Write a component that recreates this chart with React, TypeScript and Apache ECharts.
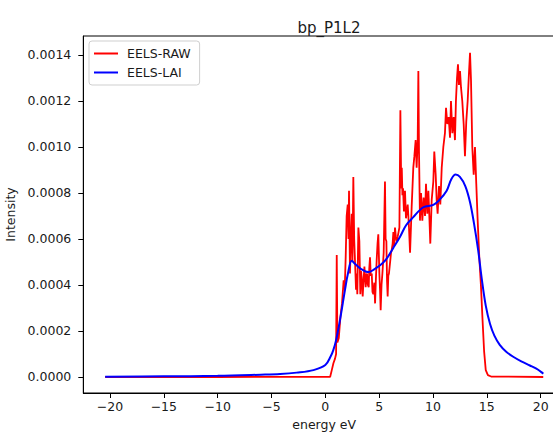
import React, { useEffect, useRef } from "react";
import * as echarts from "echarts";

// EELS-RAW spectrum: energy (eV) and intensity
const rawEnergy = [
  -20.45, -10, 0.45, 0.6, 0.75, 0.9, 1.0, 1.06, 1.12, 1.25, 1.4, 1.55, 1.7, 1.8, 1.89, 1.98,
  2.08, 2.15, 2.2, 2.29, 2.37, 2.45, 2.52, 2.6, 2.68, 2.76, 2.85, 2.92, 2.97, 3.07, 3.16,
  3.25, 3.32, 3.38, 3.47, 3.55, 3.63, 3.75, 3.82, 3.87, 3.95, 4.03, 4.08, 4.15, 4.22, 4.31,
  4.38, 4.46, 4.55, 4.62, 4.7, 4.77, 4.85, 4.92, 5.02, 5.08, 5.14, 5.22, 5.3, 5.42, 5.54,
  5.6, 5.67, 5.73, 5.79, 5.85, 5.91, 6.04, 6.1, 6.16, 6.25, 6.32, 6.4, 6.47, 6.55, 6.63,
  6.72, 6.8, 6.88, 6.97, 7.05, 7.1, 7.16, 7.22, 7.3, 7.35, 7.4, 7.49, 7.57, 7.65, 7.77,
  7.87, 8.02, 8.17, 8.27, 8.39, 8.48, 8.58, 8.64, 8.7, 8.79, 8.89, 9.01, 9.13, 9.26, 9.35,
  9.47, 9.57, 9.66, 9.75, 9.88, 10.03, 10.12, 10.25, 10.34, 10.43, 10.56, 10.68, 10.81,
  10.96, 11.11, 11.21, 11.33, 11.46, 11.58, 11.67, 11.8, 11.92, 12.04, 12.13, 12.23, 12.32,
  12.41, 12.51, 12.6, 12.72, 12.85, 12.97, 13.09, 13.22, 13.34, 13.44, 13.53, 13.65, 13.78,
  13.9, 14.02, 14.15, 14.3, 14.45, 14.6, 14.75, 14.9, 15.1, 15.4, 20.24,
];
const rawIntensity = [
  0, 0, 0.000001, 0.00003, 0.00006, 0.00008, 0.0001, 0.00053, 0.00015, 0.00017, 0.00026,
  0.00032, 0.00042, 0.00038, 0.00052, 0.0007, 0.00075, 0.0006, 0.00081, 0.00045, 0.0006,
  0.00071, 0.0005, 0.00087, 0.0006, 0.0005, 0.00038, 0.00045, 0.00036, 0.00065, 0.00059,
  0.00036, 0.00046, 0.00043, 0.00035, 0.00042, 0.00048, 0.00039, 0.00044, 0.00045, 0.0004,
  0.00039, 0.00047, 0.00052, 0.00044, 0.00045, 0.00037, 0.00036, 0.00041, 0.00032, 0.00043,
  0.00051, 0.00058, 0.00062, 0.00045, 0.00038, 0.00029, 0.0004, 0.00045, 0.00054, 0.00085,
  0.0006, 0.00059, 0.00042, 0.00035, 0.00044, 0.00045, 0.00051, 0.00054, 0.00055, 0.00058,
  0.00063, 0.00057, 0.00065, 0.00061, 0.00059, 0.00061, 0.00063, 0.00065, 0.00116, 0.00082,
  0.00091, 0.00079, 0.00082, 0.00072, 0.00077, 0.00081, 0.00069, 0.00072, 0.00075, 0.00065,
  0.00054, 0.00074, 0.00091, 0.00096, 0.00103, 0.00091, 0.00103, 0.00133, 0.00098, 0.00068,
  0.0008, 0.00068, 0.00078, 0.0007, 0.00084, 0.00071, 0.00081, 0.0007, 0.00058, 0.00077,
  0.00085, 0.00098, 0.00088, 0.00077, 0.00071, 0.00083, 0.00075, 0.00091, 0.001, 0.00106,
  0.00117, 0.0011, 0.00113, 0.00104, 0.0012, 0.00106, 0.00113, 0.00103, 0.0012, 0.0013,
  0.00136, 0.00127, 0.00133, 0.00126, 0.0012, 0.0011, 0.00096, 0.00111, 0.0012, 0.00132,
  0.00141, 0.00129, 0.001, 0.00088, 0.001, 0.00084, 0.00068, 0.00052, 0.0004, 0.00025,
  0.00011, 0.00003, 0.000008, 0.000002, 0,
];

// EELS-LAI smoothed spectrum
const laiEnergy = [
  -20.45, -15, -10, -6, -4.2, -2.66, -1.1, 0, 0.5, 0.74, 1.0, 1.37, 1.83, 2.1, 2.45, 2.8,
  3.3, 4.0, 4.6, 5.2, 5.7, 6.3, 6.94, 7.5, 8.17, 9.1, 10.03, 10.6, 11.27, 11.7, 12.1, 12.5,
  13.0, 13.44, 13.8, 14.2, 14.52, 14.9, 15.3, 15.7, 16.2, 16.8, 17.45, 18.2, 19.0, 19.6,
  20.1, 20.24,
];
const laiIntensity = [
  0.000001, 0.000003, 0.000005, 0.00001, 0.000013, 0.000019, 0.00003, 0.000052, 0.00009,
  0.000117, 0.00016, 0.00025, 0.00038, 0.00045, 0.000505, 0.00049, 0.00047, 0.000456,
  0.00047, 0.00049, 0.000515, 0.00056, 0.00061, 0.00066, 0.000695, 0.000738, 0.000748,
  0.00077, 0.00081, 0.00086, 0.00088, 0.00087, 0.00083, 0.00076, 0.00067, 0.00055, 0.00043,
  0.00031, 0.00023, 0.00018, 0.00014, 0.00011, 0.000088, 0.000068, 0.00005, 0.000036,
  0.00002, 0.000014,
];

const xTicks = [-20, -15, -10, -5, 0, 5, 10, 15, 20];
const yTicks = [0, 0.0002, 0.0004, 0.0006, 0.0008, 0.001, 0.0012, 0.0014];

const FONT = "DejaVu Sans";
const TEXT = "#1a1a1a";

export default function App() {
  const ref = useRef<HTMLDivElement>(null);

  useEffect(() => {
    document.body.style.margin = "0";
    const chart = echarts.init(ref.current!, null, { renderer: "svg" });
    const zip = (xs: number[], ys: number[]) => xs.map((x, i) => [x, ys[i]]);
    chart.setOption({
      animation: false,
      backgroundColor: "#ffffff",
      textStyle: { fontFamily: FONT },
      title: {
        text: "bp_P1L2",
        left: 324,
        top: 15,
        textAlign: "center",
        textStyle: { fontFamily: FONT, fontSize: 15, fontWeight: "normal", color: TEXT },
      },
      legend: {
        left: 89,
        top: 41,
        orient: "vertical",
        icon: "rect",
        itemWidth: 24,
        itemHeight: 2,
        itemGap: 6,
        padding: [6, 9, 6, 5],
        borderColor: "#cfcfcf",
        borderWidth: 1,
        borderRadius: 3,
        backgroundColor: "rgba(255,255,255,0.8)",
        textStyle: { fontFamily: FONT, fontSize: 12.5, color: TEXT, padding: [0, 0, 0, 4] },
        data: ["EELS-RAW", "EELS-LAI"],
      },
      grid: {
        left: 83.3,
        right: 34.9,
        top: 36,
        bottom: 39,
        outerBoundsMode: "none",
        show: true,
        borderColor: "#000",
        borderWidth: 1,
      },
      xAxis: {
        type: "value",
        min: -22.48,
        max: 22.27,
        name: "energy eV",
        nameLocation: "middle",
        nameGap: 24,
        nameTextStyle: { fontFamily: FONT, fontSize: 12.5, color: TEXT },
        axisLine: { show: true, onZero: false, lineStyle: { color: "#000", width: 1 } },
        axisTick: { show: true, length: 5, customValues: xTicks, lineStyle: { color: "#000" } },
        axisLabel: {
          customValues: xTicks,
          margin: 7,
          fontFamily: FONT,
          fontSize: 12.5,
          color: TEXT,
          formatter: (v: number) => (v < 0 ? "\u2212" + Math.abs(v) : String(v)),
        },
        splitLine: { show: false },
      },
      yAxis: {
        type: "value",
        min: -0.0000696,
        max: 0.0014826,
        name: "Intensity",
        nameLocation: "middle",
        nameGap: 63,
        nameTextStyle: { fontFamily: FONT, fontSize: 12.5, color: TEXT },
        axisLine: { show: true, onZero: false, lineStyle: { color: "#000", width: 1 } },
        axisTick: { show: true, length: 5, customValues: yTicks, lineStyle: { color: "#000" } },
        axisLabel: {
          customValues: yTicks,
          margin: 12,
          fontFamily: FONT,
          fontSize: 12.5,
          color: TEXT,
          formatter: (v: number) => v.toFixed(4),
        },
        splitLine: { show: false },
      },
      series: [
        {
          name: "EELS-RAW",
          type: "line",
          data: zip(rawEnergy, rawIntensity),
          symbol: "none",
          itemStyle: { color: "#ff0000" },
          lineStyle: { color: "#ff0000", width: 1.8 },
          z: 2,
        },
        {
          name: "EELS-LAI",
          type: "line",
          data: zip(laiEnergy, laiIntensity),
          symbol: "none",
          smooth: 0.35,
          itemStyle: { color: "#0000ff" },
          lineStyle: { color: "#0000ff", width: 2 },
          z: 3,
        },
      ],
    });
    return () => chart.dispose();
  }, []);

  return (
    <div style={{ position: "fixed", left: 0, top: 0, width: 553, height: 432, overflow: "hidden" }}>
      <div ref={ref} style={{ width: 600, height: 432 }} />
    </div>
  );
}
